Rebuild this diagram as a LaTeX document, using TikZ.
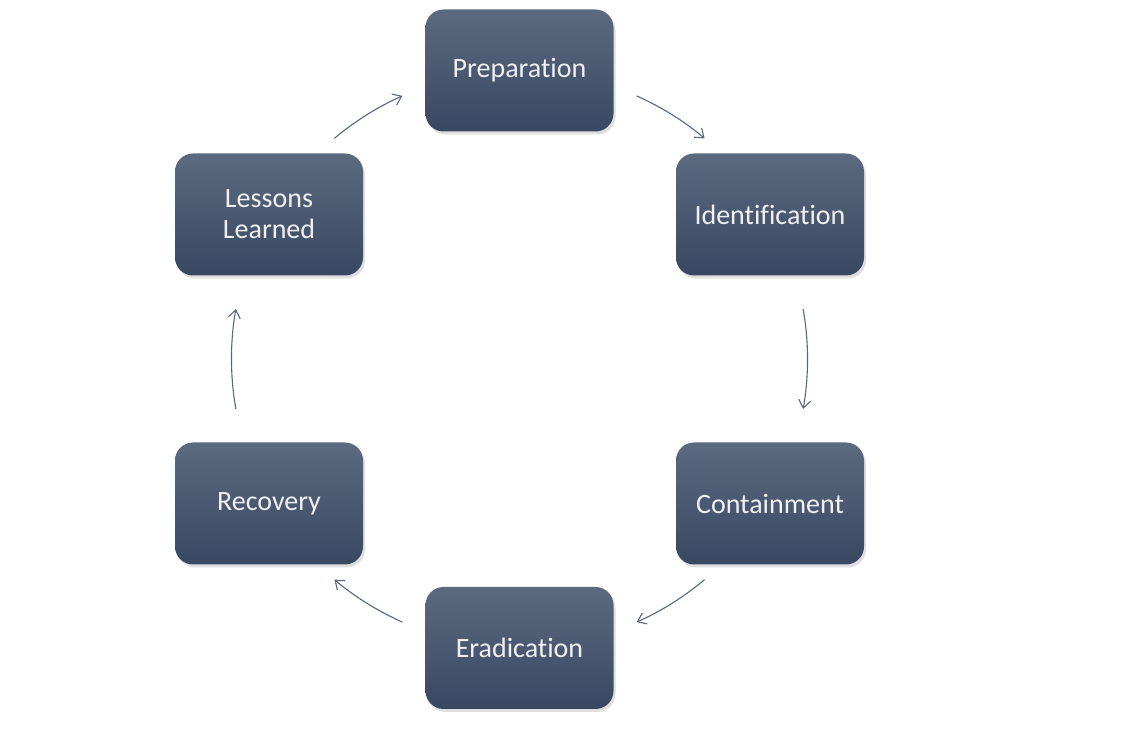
\documentclass[tikz,border=0pt]{standalone}
\usepackage{fontspec}
\setmainfont{Carlito}[Ligatures=NoCommon]
\usepackage{tikz}
\usetikzlibrary{shadows,arrows.meta}

\definecolor{boxtop}{RGB}{92,106,128}
\definecolor{boxbot}{RGB}{56,72,98}
\definecolor{arrowcol}{RGB}{88,102,128}

\tikzset{
    phase/.style={rounded corners=18pt, minimum width=188pt, minimum height=122pt,
        top color=boxtop, bottom color=boxbot, text=white!94!black,
        font=\fontsize{28}{32}\selectfont, align=center,
        drop shadow={opacity=0.25, shadow xshift=2pt, shadow yshift=-3pt}},
    cyc/.style={-{Straight Barb[length=8pt,width=12pt]}, draw=arrowcol, line width=1.1pt}
}

\begin{document}
\begin{tikzpicture}[x=1pt,y=1pt]
        \useasboundingbox (0,0) rectangle (1129,735);
        \coordinate (c) at (519.5,376);
        \node[phase] (prep) at (519.5,664.5) {Preparation};
        \node[phase] (ident) at (770,520.5) {Identification};
        \node[phase] (cont) at (770,231.5) {Containment};
        \node[phase] (erad) at (519.5,87) {Eradication};
        \node[phase] (rec) at (269,231.5) {Recovery};
        \node[phase] (les) at (269,520.5) {Lessons\\[-1pt]Learned};
        % arrows round the cycle
        \foreach \a/\b in {130/114, 66/50, 10/-10, -50/-66, -114/-130, 190/170}
            \draw[cyc] (c) ++(\a:288) arc (\a:\b:288);
    \end{tikzpicture}
\end{document}
